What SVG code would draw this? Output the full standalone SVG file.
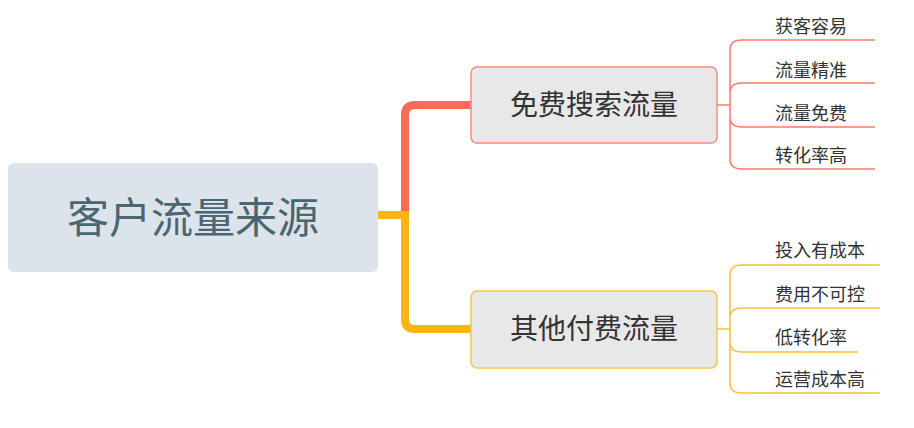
<svg xmlns="http://www.w3.org/2000/svg" width="914" height="428" viewBox="0 0 914 428">
<style>
text{font-family:"Noto Sans CJK SC","Noto Sans",sans-serif;fill:#333}
.leaf{font-size:18px}
.br{font-size:28px;text-anchor:middle}
.r{stroke:#fa7a6a;fill:none;stroke-width:1.5}
.o{stroke:#fbbf3a;fill:none;stroke-width:1.5}
</style>
<rect width="914" height="428" fill="#fff"/>
<g id="connectors">
<path d="M405 214 V115 Q405 105 415 105 H471" stroke="#fa6a5a" stroke-width="8" fill="none"/>
<path d="M378 215 H405 V319 Q405 329 415 329 H471" stroke="#fbb416" stroke-width="8" fill="none"/>
<path class="r" d="M717 105 H730 M730 105 V50 Q730 40 742 40 H875 M730 93 Q730 83 742 83 H875 M730 105 V117 Q730 127 742 127 H875 M730 105 V159 Q730 169 742 169 H875"/>
<path class="o" d="M717 329 H730 M730 329 V275 Q730 265 742 265 H880 M730 318 Q730 308 742 308 H880 M730 329 V342 Q730 352 742 352 H858 M730 329 V383 Q730 393 742 393 H880"/>
</g>
<g id="root"><rect x="8" y="163" width="370" height="109" rx="6" fill="#dde3ea"/><text x="193" y="233" font-size="42" text-anchor="middle" style="fill:#4a6670">客户流量来源</text></g>
<g id="b1"><rect x="471" y="67" width="246" height="76" rx="6" fill="#e8e8e8" stroke="#fa8a7a" stroke-width="1.5"/><text class="br" x="594" y="115">免费搜索流量</text></g>
<g id="b2"><rect x="471" y="291" width="246" height="77" rx="6" fill="#e8e8e8" stroke="#fbc54a" stroke-width="1.5"/><text class="br" x="594" y="339">其他付费流量</text></g>
<g id="l1"><text class="leaf" x="775" y="33">获客容易</text></g>
<g id="l2"><text class="leaf" x="775" y="77">流量精准</text></g>
<g id="l3"><text class="leaf" x="775" y="120">流量免费</text></g>
<g id="l4"><text class="leaf" x="775" y="162">转化率高</text></g>
<g id="l5"><text class="leaf" x="775" y="257">投入有成本</text></g>
<g id="l6"><text class="leaf" x="775" y="301">费用不可控</text></g>
<g id="l7"><text class="leaf" x="775" y="344">低转化率</text></g>
<g id="l8"><text class="leaf" x="775" y="386">运营成本高</text></g>
</svg>
